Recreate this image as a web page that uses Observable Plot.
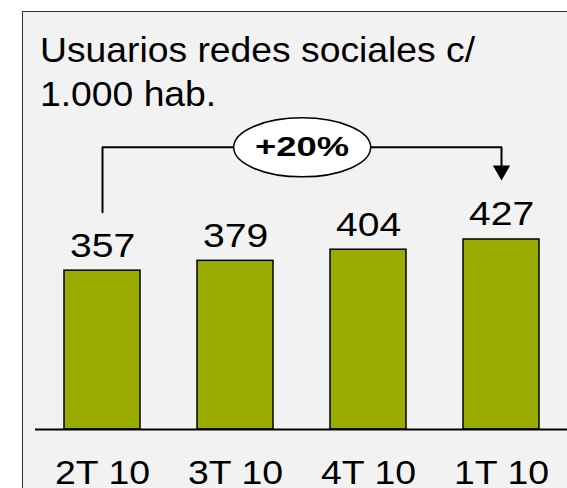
<!DOCTYPE html>
<html>
<head>
<meta charset="utf-8">
<script src="https://cdn.jsdelivr.net/npm/d3@7"></script>
<script src="https://cdn.jsdelivr.net/npm/@observablehq/plot@0.6"></script>
<style>
  html, body { margin: 0; padding: 0; background: #fff; }
  #wrap { position: relative; width: 567px; height: 488px; overflow: hidden; background: #fff; font-family: "Liberation Sans", Arial, sans-serif; }
  #panel { position: absolute; left: 22px; top: 11px; width: 600px; height: 600px; background: #f2f2f2; border-left: 1px solid #333; border-top: 1px solid #333; }
  #title { position: absolute; left: 40px; top: 28px; font-size: 35px; line-height: 44px; color: #000; white-space: nowrap; transform: scaleX(1.065); transform-origin: 0 0; }
  #chart { position: absolute; left: 0; top: 0; }
</style>
</head>
<body>
<div id="wrap">
  <div id="panel"></div>
  <div id="title">Usuarios redes sociales c/<br>1.000 hab.</div>
  <div id="chart"></div>
</div>
<script>
// Data
const categories = ["2T 10", "3T 10", "4T 10", "1T 10"];
const values = [357, 379, 404, 427];
const changeLabel = "+20%";
// annotation levels (data units)
const bracketLevel = 634;
const bracketStartLevel = 488;
const arrowLevel = 582;

const data = categories.map((c, i) => ({cat: c, value: values[i]}));

const xOpts = {domain: categories, range: [36.3, 565.7], paddingInner: 0.43, paddingOuter: 0.2};
const xs = Plot.scale({x: {type: "band", ...xOpts}});
const halfStep = xs.step / 2;

const first = categories[0], last = categories[categories.length - 1];
const bracket = [
  {x: first, y: bracketStartLevel},
  {x: first, y: bracketLevel},
  {x: last, y: bracketLevel},
  {x: last, y: arrowLevel + 6}
];
const midCat = categories[1];

const ellipse = {
  draw(ctx) {
    const rx = 68.5, ry = 29.5, k = 0.5523;
    ctx.moveTo(rx, 0);
    ctx.bezierCurveTo(rx, ry * k, rx * k, ry, 0, ry);
    ctx.bezierCurveTo(-rx * k, ry, -rx, ry * k, -rx, 0);
    ctx.bezierCurveTo(-rx, -ry * k, -rx * k, -ry, 0, -ry);
    ctx.bezierCurveTo(rx * k, -ry, rx, -ry * k, rx, 0);
    ctx.closePath();
  }
};

const chart = Plot.plot({
  width: 567,
  height: 488,
  marginLeft: 35,
  marginRight: 0,
  marginTop: 28,
  marginBottom: 59,
  style: {background: "transparent", fontFamily: "'Liberation Sans', Arial, sans-serif", color: "#000", overflow: "visible"},
  x: {type: "band", ...xOpts, axis: null},
  y: {domain: [0, 900], range: [429, 28.5], axis: null},
  marks: [
    Plot.barY(data, {x: "cat", y: "value", fill: "#9bac00", stroke: "#000", strokeWidth: 1.5}),
    Plot.ruleY([0], {stroke: "#000", strokeWidth: 2}),
    Plot.text(data, {x: "cat", y: "value", text: d => String(d.value), dy: -14, lineAnchor: "bottom", fontSize: 34, fill: "#000"}),
    Plot.axisX({tickSize: 0, tickPadding: 30, fontSize: 34, label: null, color: "#000"}),
    Plot.line(bracket, {x: "x", y: "y", stroke: "#000", strokeWidth: 2, curve: "linear"}),
    Plot.dot([{x: last, y: arrowLevel}], {x: "x", y: "y", symbol: "triangle", rotate: 180, r: 6.4, fill: "#000", stroke: "none"}),
    Plot.dot([{x: midCat, y: bracketLevel}], {x: "x", y: "y", dx: halfStep, symbol: ellipse, r: 10, fill: "#fff", stroke: "#000", strokeWidth: 1.5}),
    Plot.text([{x: midCat, y: bracketLevel, t: changeLabel}], {x: "x", y: "y", dx: halfStep, text: "t", fontSize: 28, fontWeight: "bold", fill: "#000"})
  ]
});
document.getElementById("chart").appendChild(chart);

// widen glyphs to match the reference's horizontally stretched lettering
const valueSet = new Set(values.map(String));
const catSet = new Set(categories);
chart.querySelectorAll("text").forEach(t => {
  const s = t.textContent.trim();
  let f = 1;
  if (valueSet.has(s)) f = 1.15;
  else if (catSet.has(s)) f = 1.1;
  else if (s === changeLabel) f = 1.3;
  if (f === 1) return;
  const b = t.getBBox();
  const cx = b.x + b.width / 2;
  const prev = t.getAttribute("transform") || "";
  t.setAttribute("transform", `${prev} translate(${cx},0) scale(${f},1) translate(${-cx},0)`.trim());
});
</script>
</body>
</html>
